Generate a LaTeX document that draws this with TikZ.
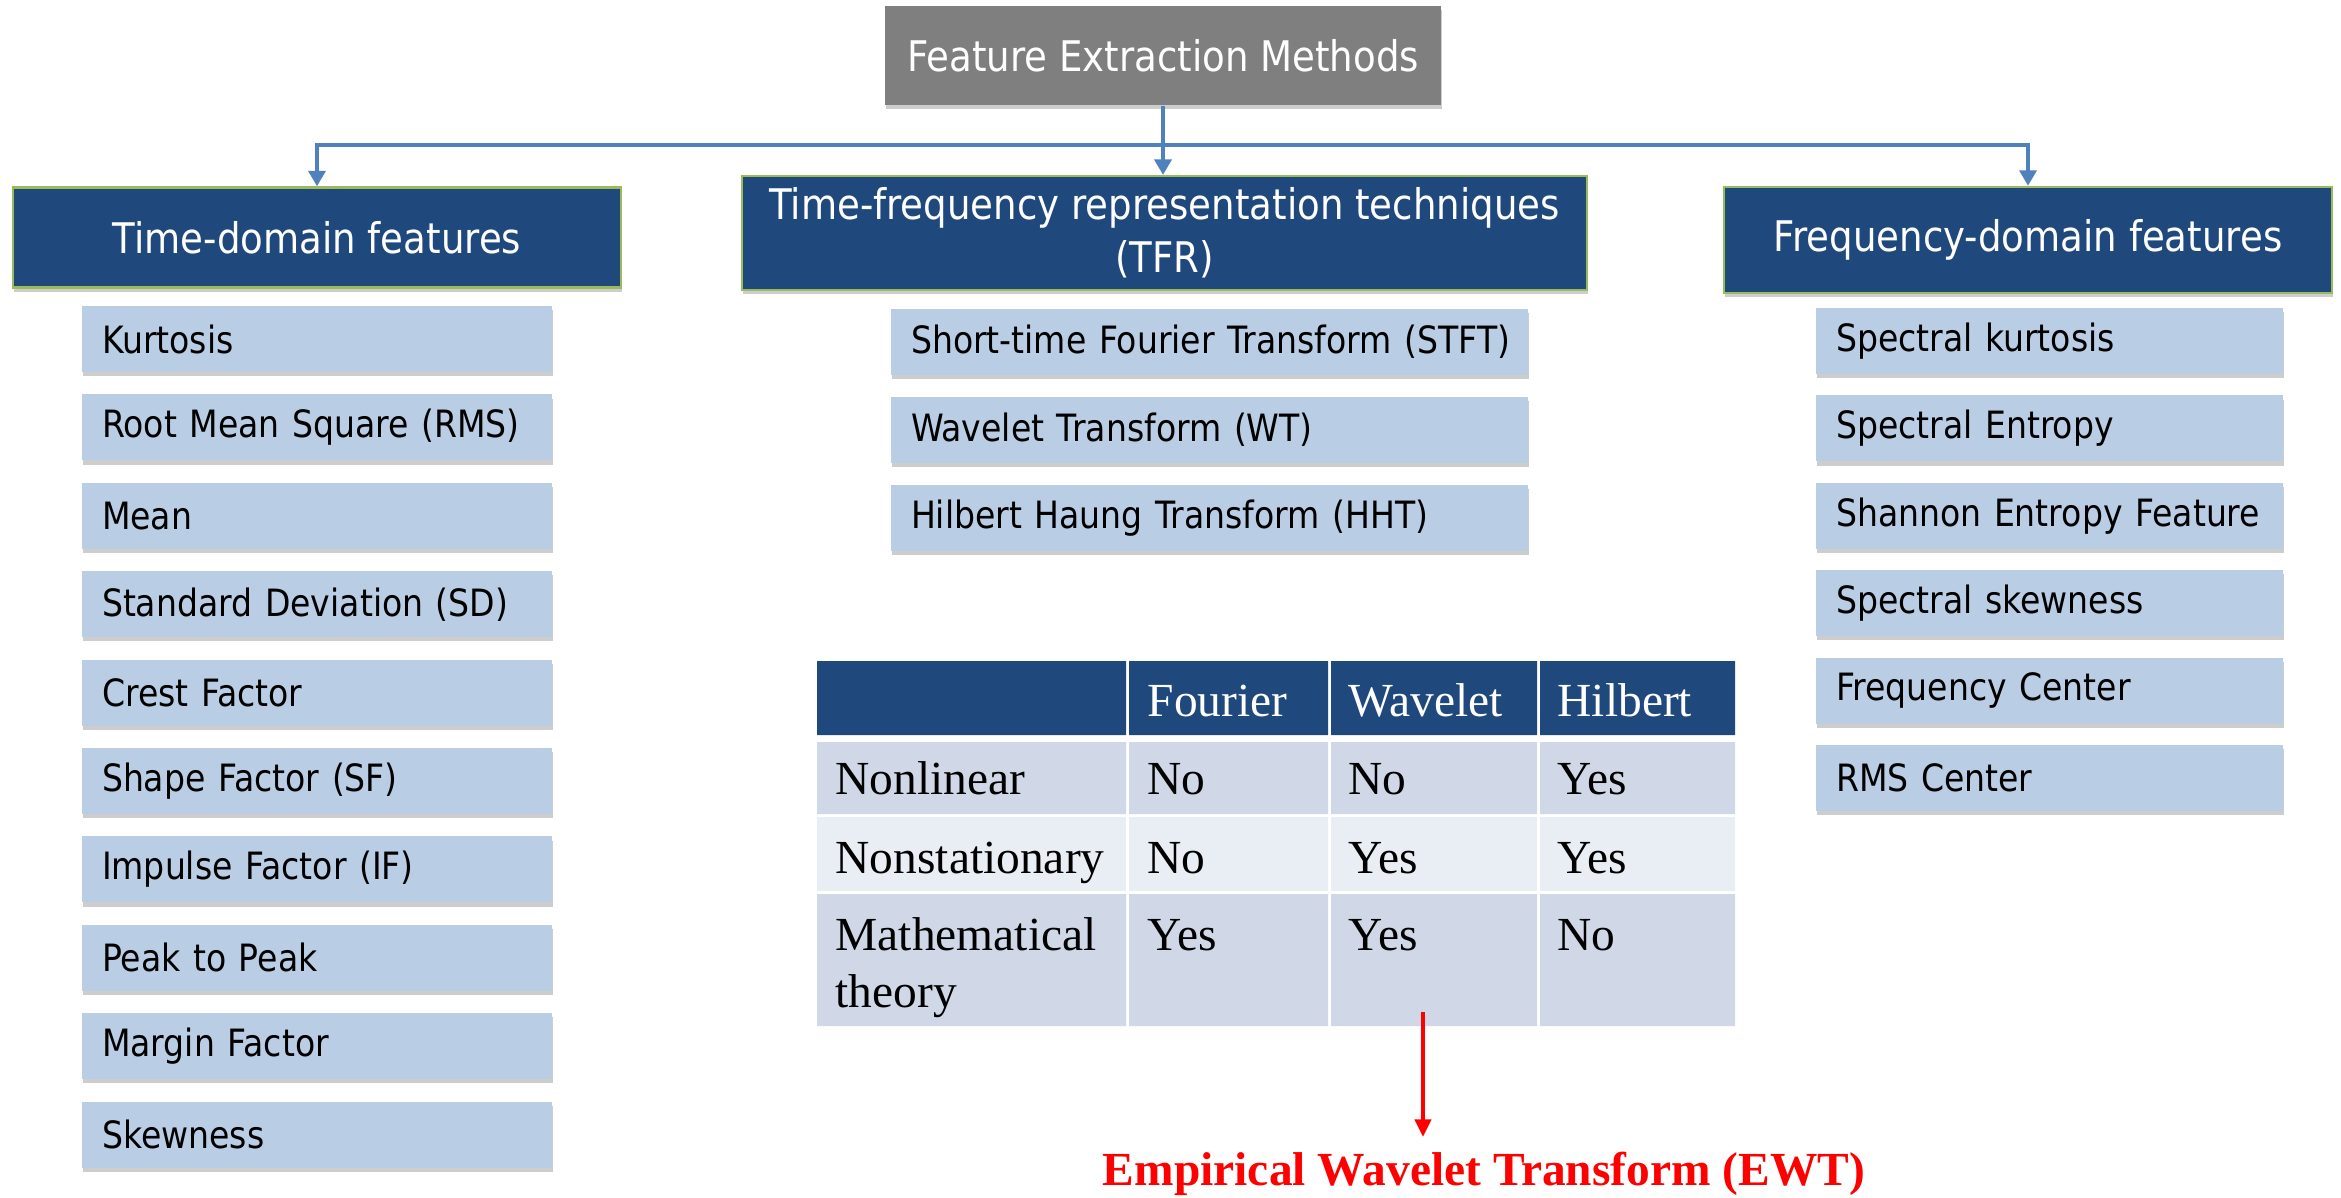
\documentclass[tikz,border=0pt]{standalone}
\usepackage{fontspec}
\setmainfont{DejaVu Sans}[FakeStretch=0.88]
\newfontfamily\tabfont{Liberation Serif}
\definecolor{headblue}{RGB}{31,73,125}
\definecolor{rimgreen}{RGB}{155,187,89}
\definecolor{itemblue}{RGB}{185,205,229}
\definecolor{linkblue}{RGB}{79,129,189}
\definecolor{rootgray}{RGB}{127,127,127}
\definecolor{rowdark}{RGB}{208,216,232}
\definecolor{rowlight}{RGB}{233,237,244}
\definecolor{ewtred}{RGB}{255,0,0}
\usetikzlibrary{arrows.meta,shadows,positioning}
\tikzset{
  softshadow/.style={drop shadow={shadow xshift=0.3pt,shadow yshift=-1.2pt,opacity=0.28,fill=black!70}},
  rootbox/.style={fill=rootgray,text=white,minimum width=5.56cm,minimum height=0.99cm,font=\fontsize{12}{14}\selectfont,softshadow},
  headbox/.style={fill=headblue,draw=rimgreen,line width=0.7pt,text=white,minimum width=6.08cm,minimum height=1cm,align=center,font=\fontsize{12}{15}\selectfont,softshadow},
  itembox/.style={fill=itemblue,minimum height=0.66cm,text width=#1,inner xsep=0.2cm,align=left,font=\fontsize{10.7}{12.8}\selectfont,softshadow},
  itembox/.default=4.3cm,
  link/.style={draw=linkblue,line width=1.4pt,-{Triangle[width=4.8pt,length=4.4pt]}},
  redlink/.style={draw=ewtred,line width=1.1pt,-{Triangle[width=4.6pt,length=5pt]}},
  celltext/.style={anchor=base west,inner sep=0pt,font=\tabfont\fontsize{13.5}{16.2}\selectfont}
}
\begin{document}
\begin{tikzpicture}
\useasboundingbox (0,0) rectangle (23.41,-11.97);
% top and the three families
\node[rootbox] (root) at (11.63,-0.555) {Feature Extraction Methods};
\node[headbox] (td) at (3.17,-2.375) {Time-domain features};
\node[headbox,minimum width=8.45cm,minimum height=1.04cm] (tfr) at (11.645,-2.33) {Time-frequency representation techniques\\(TFR)};
\node[headbox,minimum height=1.06cm] (fd) at (20.28,-2.40) {Frequency-domain features};
\coordinate (bus) at (11.63,-1.45);
\draw[link] (root.south) -- (root.south |- tfr.north);
\draw[link] (bus) -| (td.north);
\draw[link] (bus) -| (fd.north);
% time domain
\node[itembox] (td1) at (3.17,-3.39) {Kurtosis};
\node[itembox] (td2) at (3.17,-4.274) {Root Mean Square (RMS)};
\node[itembox] (td3) at (3.17,-5.158) {Mean};
\node[itembox] (td4) at (3.17,-6.042) {Standard Deviation (SD)};
\node[itembox] (td5) at (3.17,-6.926) {Crest Factor};
\node[itembox] (td6) at (3.17,-7.81) {Shape Factor (SF)};
\node[itembox] (td7) at (3.17,-8.694) {Impulse Factor (IF)};
\node[itembox] (td8) at (3.17,-9.578) {Peak to Peak};
\node[itembox] (td9) at (3.17,-10.462) {Margin Factor};
\node[itembox] (td10) at (3.17,-11.346) {Skewness};
% time-frequency
\node[itembox=5.97cm] (tf1) at (12.095,-3.42) {\mbox{Short-time Fourier Transform (STFT)}};
\node[itembox=5.97cm] (tf2) at (12.095,-4.30) {Wavelet Transform (WT)};
\node[itembox=5.97cm] (tf3) at (12.095,-5.18) {Hilbert Haung Transform (HHT)};
% frequency domain
\node[itembox=4.27cm] (fd1) at (20.495,-3.41) {Spectral kurtosis};
\node[itembox=4.27cm] (fd2) at (20.495,-4.284) {Spectral Entropy};
\node[itembox=4.27cm] (fd3) at (20.495,-5.158) {Shannon Entropy Feature};
\node[itembox=4.27cm] (fd4) at (20.495,-6.032) {Spectral skewness};
\node[itembox=4.27cm] (fd5) at (20.495,-6.906) {Frequency Center};
\node[itembox=4.27cm] (fd6) at (20.495,-7.78) {RMS Center};
% comparison table
\fill[headblue] (8.17,-6.61) rectangle (11.26,-7.35) (11.29,-6.61) rectangle (13.28,-7.35) (13.31,-6.61) rectangle (15.37,-7.35) (15.40,-6.61) rectangle (17.35,-7.35);
\fill[rowdark] (8.17,-7.42) rectangle (11.26,-8.14) (11.29,-7.42) rectangle (13.28,-8.14) (13.31,-7.42) rectangle (15.37,-8.14) (15.40,-7.42) rectangle (17.35,-8.14);
\fill[rowlight] (8.17,-8.17) rectangle (11.26,-8.91) (11.29,-8.17) rectangle (13.28,-8.91) (13.31,-8.17) rectangle (15.37,-8.91) (15.40,-8.17) rectangle (17.35,-8.91);
\fill[rowdark] (8.17,-8.94) rectangle (11.26,-10.26) (11.29,-8.94) rectangle (13.28,-10.26) (13.31,-8.94) rectangle (15.37,-10.26) (15.40,-8.94) rectangle (17.35,-10.26);
\node[celltext,text=white] (hfou) at (11.47,-7.16) {Fourier};
\node[celltext,text=white] (hwav) at (13.48,-7.16) {Wavelet};
\node[celltext,text=white] (hhil) at (15.57,-7.16) {Hilbert};
\node[celltext] (rnl) at (8.35,-7.94) {Nonlinear};
\node[celltext] (rnlf) at (11.47,-7.94) {No};
\node[celltext] (rnlw) at (13.48,-7.94) {No};
\node[celltext] (rnlh) at (15.57,-7.94) {Yes};
\node[celltext] (rns) at (8.35,-8.73) {Nonstationary};
\node[celltext] (rnsf) at (11.47,-8.73) {No};
\node[celltext] (rnsw) at (13.48,-8.73) {Yes};
\node[celltext] (rnsh) at (15.57,-8.73) {Yes};
\node[celltext,align=left] (rmt) at (8.35,-10.07) {Mathematical\\theory};
\node[celltext] (rmtf) at (11.47,-9.50) {Yes};
\node[celltext] (rmtw) at (13.48,-9.50) {Yes};
\node[celltext] (rmth) at (15.57,-9.50) {No};
% outcome
\node[anchor=base,inner sep=0pt,text=ewtred,font=\tabfont\bfseries\fontsize{13.5}{16}\selectfont] (ewt) at (14.84,-11.85) {Empirical Wavelet Transform (EWT)};
\coordinate (ewtsrc) at (14.23,-10.12);
\draw[redlink,shorten >=0.14cm] (ewtsrc) -- (ewtsrc |- ewt.north);
\end{tikzpicture}
\end{document}
